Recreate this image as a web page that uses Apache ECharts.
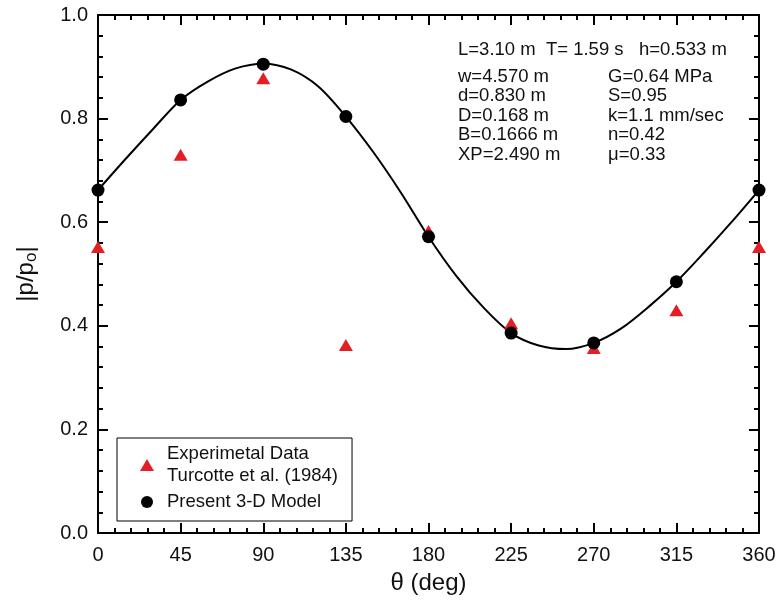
<!DOCTYPE html>
<html>
<head>
<meta charset="utf-8">
<script src="https://cdn.jsdelivr.net/npm/echarts@6/dist/echarts.min.js"></script>
<style>
  html, body { margin: 0; padding: 0; background: #ffffff; }
  #chart { width: 780px; height: 602px; }
</style>
</head>
<body>
<div id="chart"></div>
<script>
// Measured pressure amplitudes and model predictions around the pipe (theta in degrees)
const angles = [0, 45, 90, 135, 180, 225, 270, 315, 360];
const experimental = [0.552, 0.730, 0.878, 0.363, 0.583, 0.405, 0.357, 0.430, 0.552];
const model3D = [0.662, 0.836, 0.905, 0.804, 0.572, 0.386, 0.367, 0.485, 0.662];

// Continuous model response
const curveAngles = [0, 15, 30, 45, 60, 75, 90, 105, 120, 135, 150, 165, 180, 195, 210, 225, 240, 255, 270, 285, 300, 315, 330, 345, 360];
const curveValues = [0.662, 0.722, 0.780, 0.836, 0.872, 0.897, 0.906, 0.895, 0.862, 0.804, 0.735, 0.657, 0.572, 0.497, 0.435, 0.386, 0.362, 0.355, 0.367, 0.395, 0.437, 0.485, 0.541, 0.600, 0.662];

// Case parameters
const paramsTop = 'L=3.10 m  T= 1.59 s   h=0.533 m';
const paramsLeft = ['w=4.570 m', 'd=0.830 m', 'D=0.168 m', 'B=0.1666 m', 'XP=2.490 m'];
const paramsRight = ['G=0.64 MPa', 'S=0.95', 'k=1.1 mm/sec', 'n=0.42', 'μ=0.33'];

const expName = 'Experimetal Data\nTurcotte et al. (1984)';
const modelName = 'Present 3-D Model';

const FONT = '"Liberation Sans", Arial, sans-serif';
const INK = '#111111';
const RED = '#e41e25';

function pairs(xs, ys) { return xs.map((x, i) => [x, ys[i]]); }

function axisBase(extra) {
  return Object.assign({
    type: 'value',
    axisLine: { show: true, onZero: false, lineStyle: { color: '#000', width: 2 } },
    axisTick: { show: true, inside: true, length: 10, lineStyle: { color: '#000', width: 2 } },
    minorTick: { show: true, splitNumber: 5, length: 5, lineStyle: { color: '#000', width: 2 } },
    splitLine: { show: false },
    minorSplitLine: { show: false }
  }, extra);
}

const xMain = axisBase({
  min: 0, max: 360, interval: 45, position: 'bottom',
  axisLabel: { show: true, fontSize: 20, color: INK, fontFamily: FONT, margin: 12, showMinLabel: true, showMaxLabel: true },
  name: 'θ (deg)', nameLocation: 'middle', nameGap: 38,
  nameTextStyle: { fontSize: 24, color: INK, fontFamily: FONT }
});
const xTop = axisBase({ min: 0, max: 360, interval: 45, position: 'top', axisLabel: { show: false } });

const yMain = axisBase({
  min: 0, max: 1, interval: 0.2, position: 'left',
  axisLabel: { show: true, fontSize: 20, color: INK, fontFamily: FONT, margin: 10, formatter: v => v.toFixed(1), showMinLabel: true, showMaxLabel: true },
  name: '|p/p{sub|o}|', nameLocation: 'middle', nameGap: 58,
  nameTextStyle: {
    fontSize: 24, color: INK, fontFamily: FONT,
    rich: { sub: { fontSize: 17, fontFamily: FONT, color: INK, verticalAlign: 'bottom', padding: [10, 0, 0, 0] } }
  }
});
const yRight = axisBase({ min: 0, max: 1, interval: 0.2, position: 'right', axisLabel: { show: false } });

const PARAM_FONT = '18.5px ' + FONT;
const graphicTexts = [];
graphicTexts.push({ type: 'text', left: 458, top: 40, style: { text: paramsTop, font: PARAM_FONT, fill: INK } });
paramsLeft.forEach((t, i) => {
  graphicTexts.push({ type: 'text', left: 458, top: 67 + i * 19.5, style: { text: t, font: PARAM_FONT, fill: INK } });
});
paramsRight.forEach((t, i) => {
  graphicTexts.push({ type: 'text', left: 608, top: 67 + i * 19.5, style: { text: t, font: PARAM_FONT, fill: INK } });
});

const chart = echarts.init(document.getElementById('chart'), null, { renderer: 'canvas' });
chart.setOption({
  animation: false,
  backgroundColor: '#ffffff',
  grid: { left: 98, right: 21, top: 15, bottom: 69, containLabel: false },
  xAxis: [xMain, xTop],
  yAxis: [yMain, yRight],
  legend: {
    orient: 'vertical', left: 117, top: 438,
    padding: [5, 14, 8, 23], itemGap: 4,
    itemWidth: 14, itemHeight: 12,
    borderColor: '#000', borderWidth: 1, backgroundColor: '#fff',
    textStyle: { fontSize: 18.5, lineHeight: 22, color: INK, fontFamily: FONT, padding: [0, 0, 0, 8] },
    data: [
      { name: expName, icon: 'triangle', itemStyle: { color: RED, opacity: 1 } },
      { name: modelName, icon: 'circle', itemStyle: { color: '#000', opacity: 1 } }
    ]
  },
  graphic: graphicTexts,
  series: [
    {
      name: 'Model curve', type: 'line', data: pairs(curveAngles, curveValues),
      smooth: 0.3, showSymbol: false, symbol: 'none',
      lineStyle: { color: '#000', width: 2 }, z: 2, silent: true
    },
    {
      name: expName, type: 'scatter', data: pairs(angles, experimental),
      symbol: 'triangle', symbolSize: [14, 12],
      itemStyle: { color: RED, opacity: 1 }, z: 3
    },
    {
      name: modelName, type: 'scatter', data: pairs(angles, model3D),
      symbol: 'circle', symbolSize: 13,
      itemStyle: { color: '#000', opacity: 1 }, z: 4
    }
  ]
});
</script>
</body>
</html>
